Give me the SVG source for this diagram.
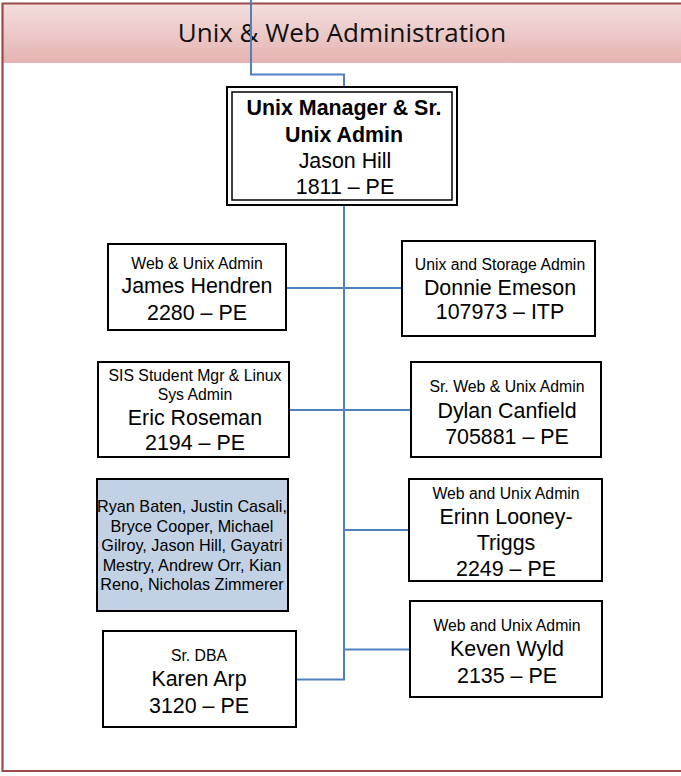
<svg xmlns="http://www.w3.org/2000/svg" width="681" height="776" viewBox="0 0 681 776">
<defs>
<linearGradient id="hdr" x1="0" y1="0" x2="0" y2="1">
<stop offset="0" stop-color="#f3dfde"/>
<stop offset="1" stop-color="#e4b3b1"/>
</linearGradient>
</defs>
<style>
.box{fill:#ffffff;stroke:#000000;stroke-width:2}
.t{font-family:"Liberation Sans",Arial,sans-serif;text-anchor:middle;fill:#000000}
.s{font-size:15.8px}
.m{font-size:21.4px}
.b{font-size:21.4px;font-weight:bold}
.g{font-size:16.2px}
.c{fill:none;stroke:#4f81bd;stroke-width:2}
</style>
<rect width="681" height="776" fill="#ffffff"/>
<g id="frame">
<rect x="2" y="4" width="690" height="59" fill="url(#hdr)"/>
<path d="M690,3.5 H2.5 V771 H690" fill="none" stroke="#9b4a48" stroke-width="2.2"/>
<text x="342" y="42" font-family="'Open Sans','Liberation Sans',sans-serif" font-size="26" text-anchor="middle" fill="#111">Unix &amp; Web Administration</text>
</g>
<g id="connectors">
<path class="c" d="M251,0 V74.5 H344 V87"/>
<path class="c" d="M344,205 V679.5 H296"/>
<path class="c" d="M286,288 H402"/>
<path class="c" d="M289,410 H411"/>
<path class="c" d="M344,530 H409"/>
<path class="c" d="M344,649.5 H410"/>
</g>
<g id="manager">
<rect x="227" y="87" width="230" height="118" fill="#fff" stroke="#000" stroke-width="2"/>
<rect x="232" y="92" width="220" height="108" fill="none" stroke="#000" stroke-width="1.5"/>
<text class="t b" x="344" y="115">Unix Manager &amp; Sr.</text>
<text class="t b" x="344" y="142">Unix Admin</text>
<text class="t m" x="345" y="168">Jason Hill</text>
<text class="t m" x="345" y="194">1811 – PE</text>
</g>
<g id="hendren">
<rect class="box" x="108" y="244" width="178" height="86"/>
<text class="t s" x="197" y="269">Web &amp; Unix Admin</text>
<text class="t m" x="197" y="293">James Hendren</text>
<text class="t m" x="197" y="320">2280 – PE</text>
</g>
<g id="emeson">
<rect class="box" x="402" y="241" width="193" height="95"/>
<text class="t s" x="500" y="270">Unix and Storage Admin</text>
<text class="t m" x="500" y="295">Donnie Emeson</text>
<text class="t m" x="500" y="319">107973 – ITP</text>
</g>
<g id="roseman">
<rect class="box" x="98" y="362" width="191" height="95"/>
<text class="t s" x="195" y="381">SIS Student Mgr &amp; Linux</text>
<text class="t s" x="195" y="400">Sys Admin</text>
<text class="t m" x="195" y="425">Eric Roseman</text>
<text class="t m" x="195" y="450">2194 – PE</text>
</g>
<g id="canfield">
<rect class="box" x="411" y="362" width="190" height="95"/>
<text class="t s" x="507" y="392">Sr. Web &amp; Unix Admin</text>
<text class="t m" x="507" y="418">Dylan Canfield</text>
<text class="t m" x="507" y="444">705881 – PE</text>
</g>
<g id="team">
<rect x="97" y="479" width="191" height="132" fill="#c2d1e3" stroke="#000" stroke-width="2"/>
<text class="t g" x="192" y="512">Ryan Baten, Justin Casali,</text>
<text class="t g" x="192" y="532">Bryce Cooper, Michael</text>
<text class="t g" x="192" y="551">Gilroy, Jason Hill, Gayatri</text>
<text class="t g" x="192" y="571">Mestry, Andrew Orr, Kian</text>
<text class="t g" x="192" y="590">Reno, Nicholas Zimmerer</text>
</g>
<g id="looney">
<rect class="box" x="409" y="479" width="193" height="102"/>
<text class="t s" x="506" y="499">Web and Unix Admin</text>
<text class="t m" x="506" y="524">Erinn Looney-</text>
<text class="t m" x="506" y="550">Triggs</text>
<text class="t m" x="506" y="576">2249 – PE</text>
</g>
<g id="wyld">
<rect class="box" x="410" y="601" width="192" height="96"/>
<text class="t s" x="507" y="631">Web and Unix Admin</text>
<text class="t m" x="507" y="656">Keven Wyld</text>
<text class="t m" x="507" y="683">2135 – PE</text>
</g>
<g id="arp">
<rect class="box" x="103" y="631" width="193" height="96"/>
<text class="t s" x="199" y="661">Sr. DBA</text>
<text class="t m" x="199" y="686">Karen Arp</text>
<text class="t m" x="199" y="713">3120 – PE</text>
</g>
</svg>
